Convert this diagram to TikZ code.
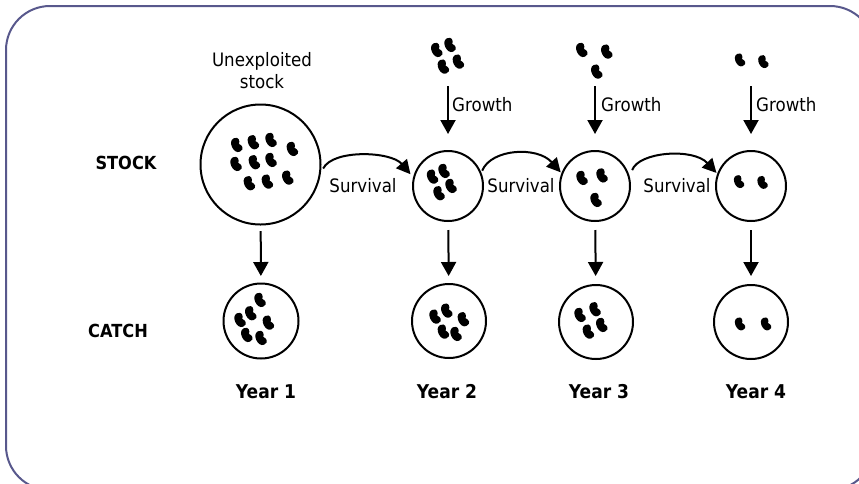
\documentclass[tikz,border=0pt]{standalone}
\usepackage{fontspec}
\setmainfont{DejaVu Sans}[FakeStretch=0.9]
\usetikzlibrary{arrows.meta}
\definecolor{framec}{RGB}{88,88,140}
\begin{document}
\begin{tikzpicture}[x=1pt,y=-1pt,
  circ/.style={draw, circle, line width=2pt, inner sep=0pt, minimum size=#1},
  arr/.style={line width=2pt, -{Triangle[length=14pt,width=15pt]}},
  carr/.style={line width=2pt, -{Triangle[length=14pt,width=14pt]}},
  lbl/.style={font=\fontsize{18.5}{20}\selectfont, inner sep=0pt},
  blbl/.style={font=\fontsize{18}{20}\selectfont\bfseries, inner sep=0pt},
  ylbl/.style={font=\fontsize{19}{21}\selectfont\bfseries, inner sep=0pt},
  bean/.pic={\fill (0,-7) .. controls (-6.5,-7) and (-6.5,7) .. (0,7) .. controls (5.5,7) and (4.5,2) .. (2.4,0) .. controls (4.5,-2) and (5.5,-7) .. (0,-7) -- cycle;},
  frame/.style={draw=framec, line width=2pt, rounded corners=44pt}
]
\useasboundingbox (0,0) rectangle (859,483);
\draw[frame] (6,6) rectangle (874,490);

% stock circles
\node[circ=120pt] (s1) at (260.5,164.5) {};
\node[circ=70pt] (s2) at (448,186) {};
\node[circ=70pt] (s3) at (595,186) {};
\node[circ=70pt] (s4) at (751,186) {};
% catch circles
\node[circ=75pt] (c1) at (261,321) {};
\node[circ=74pt] (c2) at (449,321) {};
\node[circ=74pt] (c3) at (596,322) {};
\node[circ=74pt] (c4) at (751,322) {};

% growth sources
\coordinate (g2) at (448,86);
\coordinate (g3) at (595,86);
\coordinate (g4) at (751,86);

% beans
\foreach \p in {(236.7,145),(253.3,142.3),(271,140),(292.3,149),(236,164),(254.3,162.3),(271,160),(249.3,183.3),(267.3,181.7),(287.7,177.7),
  (260,300),(240,320),(250.7,313.3),(268.3,322.7),(246.7,335),(261,338),
  (435,316.7),(446.7,310.7),(463.3,319.3),(443.3,331.7),(456,334),
  (580,315),(595,309.3),(601.7,325),(588.3,331.7),
  (432.5,176.7),(444,171),(451,186),(439,193.3),
  (582,178),(602,175.5),(596,200),
  (436.7,50),(450,45),(458.3,61.7),(443.3,66.7),
  (581.7,50),(606.7,51.7),(596.7,71.7)}
  \pic[rotate=25, scale=1.05] at \p {bean};
\foreach \p in {(740,324),(766,324),(739,181.7),(762.5,182.5),(740,60),(763.3,61.7)}
  \pic[rotate=25, scale=0.95] at \p {bean};

% vertical arrows
\draw[arr, shorten <=5.5pt, shorten >=6.5pt] (s1) -- (c1);
\draw[arr, shorten <=8pt, shorten >=7pt] (s2) -- (c2);
\draw[arr, shorten <=8pt, shorten >=8pt] (s3) -- (c3);
\draw[arr, shorten <=8pt, shorten >=8pt] (s4) -- (c4);
\draw[arr, shorten >=16pt] (g2) -- (s2);
\draw[arr, shorten >=16pt] (g3) -- (s3);
\draw[arr, shorten >=16pt] (g4) -- (s4);

% survival arcs
\draw[carr, shorten <=5pt, shorten >=4pt] (s1.-8) .. controls +(12,-24) and +(-22,-26) .. (s2.166);
\draw[carr, shorten <=2pt, shorten >=1pt] (s2.22) .. controls +(10,-24) and +(-24,-27) .. (s3.159);
\draw[carr, shorten <=7pt, shorten >=1pt] (s3.15) .. controls +(9,-25) and +(-24,-26) .. (s4.160);

% labels
\node[lbl, anchor=base] (u1) at (262,66) {Unexploited};
\node[lbl, anchor=base] (u2) at (262,88) {stock};
\node[blbl, anchor=base] (stock) at (126,169) {STOCK};
\node[blbl, anchor=base] (catch) at (118,337) {CATCH};
\node[ylbl, anchor=base] (y1) at (266,398) {Year 1};
\node[ylbl, anchor=base] (y2) at (447,398) {Year 2};
\node[ylbl, anchor=base] (y3) at (599,398) {Year 3};
\node[ylbl, anchor=base] (y4) at (756,398) {Year 4};
\node[lbl, anchor=base west] (gr2) at (452,111) {Growth};
\node[lbl, anchor=base west] (gr3) at (601,111) {Growth};
\node[lbl, anchor=base west] (gr4) at (756,111) {Growth};
\node[lbl, anchor=base] (sv1) at (363,192) {Survival};
\node[lbl, anchor=base] (sv2) at (521,192) {Survival};
\node[lbl, anchor=base] (sv3) at (677,192) {Survival};
\end{tikzpicture}
\end{document}
